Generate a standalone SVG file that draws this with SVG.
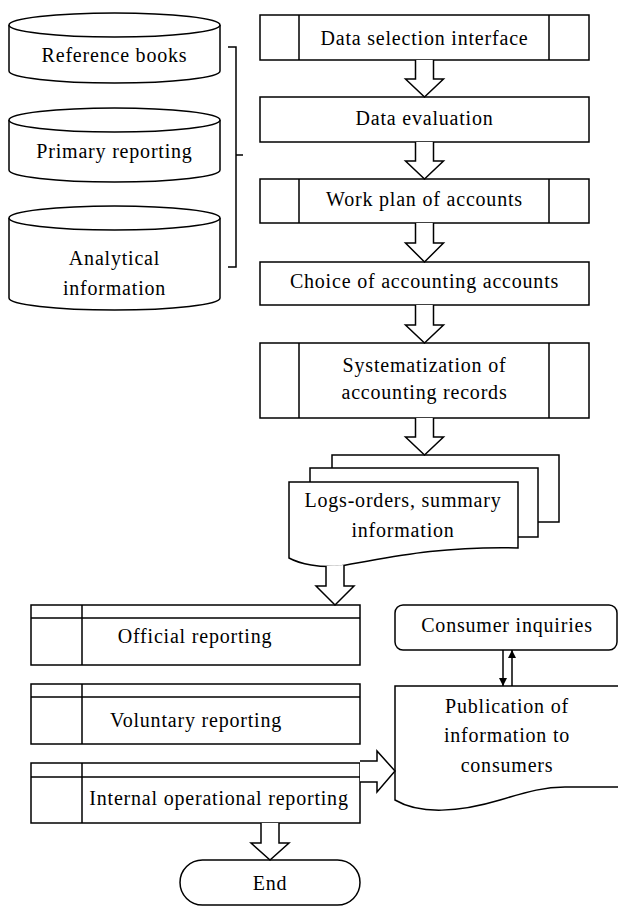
<svg xmlns="http://www.w3.org/2000/svg" width="618" height="906" viewBox="0 0 618 906">
<style>
.s{fill:#fff;stroke:#000;stroke-width:1.5}
.l{fill:none;stroke:#000;stroke-width:1.5}
.t{font-family:"Liberation Serif","Times New Roman",serif;font-size:20px;letter-spacing:0.8px;fill:#000;text-anchor:middle}
</style>
<defs>
<marker id="ah" viewBox="0 0 8 14" refX="8" refY="7" markerWidth="8" markerHeight="14" markerUnits="userSpaceOnUse" orient="auto">
<path d="M0,3 L8,7 L0,11 Z" fill="#000"/>
</marker>
</defs>
<rect width="618" height="906" fill="#fff"/>

<g id="cyl-reference">
<path class="s" d="M9,25 V71 A105.5,12 0 0 0 220,71 V25"/>
<ellipse class="s" cx="114.5" cy="25" rx="105.5" ry="12"/>
<text class="t" x="114.5" y="62">Reference books</text>
</g>
<g id="cyl-primary">
<path class="s" d="M9,120 V170 A105.5,12 0 0 0 220,170 V120"/>
<ellipse class="s" cx="114.5" cy="120" rx="105.5" ry="12"/>
<text class="t" x="114.5" y="158">Primary reporting</text>
</g>
<g id="cyl-analytical">
<path class="s" d="M9,218 V298 A105.5,12 0 0 0 220,298 V218"/>
<ellipse class="s" cx="114.5" cy="218" rx="105.5" ry="12"/>
<text class="t" x="114.5" y="265">Analytical</text>
<text class="t" x="114.5" y="295">information</text>
</g>
<g id="bracket">
<path class="l" d="M228,47 H236 V267 H228 M236,155 H243"/>
</g>

<g id="n-select">
<rect class="s" x="260" y="15" width="329" height="45"/>
<path class="l" d="M299,15 V60 M549,15 V60"/>
<text class="t" x="424.5" y="45">Data selection interface</text>
</g>
<g id="n-eval">
<rect class="s" x="260" y="97" width="329" height="45"/>
<text class="t" x="424.5" y="125">Data evaluation</text>
</g>
<g id="n-workplan">
<rect class="s" x="260" y="179" width="329" height="44"/>
<path class="l" d="M299,179 V223 M549,179 V223"/>
<text class="t" x="424.5" y="206">Work plan of accounts</text>
</g>
<g id="n-choice">
<rect class="s" x="260" y="262" width="329" height="43"/>
<text class="t" x="424.5" y="288">Choice of accounting accounts</text>
</g>
<g id="n-system">
<rect class="s" x="260" y="343" width="329" height="75"/>
<path class="l" d="M299,343 V418 M549,343 V418"/>
<text class="t" x="424.5" y="372">Systematization of</text>
<text class="t" x="424.5" y="399">accounting records</text>
</g>
<g id="n-logs">
<rect class="s" x="332" y="455" width="227" height="67"/>
<rect class="s" x="310" y="468" width="228" height="69"/>
<path class="s" d="M289,482 H518 V548 C430,546 380,560 340,566 C320,568 300,564 289,558 Z"/>
<text class="t" x="403" y="507">Logs-orders, summary</text>
<text class="t" x="403" y="537">information</text>
</g>

<g id="n-official">
<rect class="s" x="31" y="605" width="329" height="60"/>
<path class="l" d="M31,618 H360 M82,605 V665"/>
<text class="t" x="195" y="643">Official reporting</text>
</g>
<g id="n-voluntary">
<rect class="s" x="31" y="684" width="329" height="60"/>
<path class="l" d="M31,697 H360 M82,684 V744"/>
<text class="t" x="196" y="727">Voluntary reporting</text>
</g>
<g id="n-internal">
<rect class="s" x="31" y="763" width="329" height="60"/>
<path class="l" d="M31,777 H360 M82,763 V823"/>
<text class="t" x="219" y="805">Internal operational reporting</text>
</g>
<g id="n-end">
<rect class="s" x="180" y="860" width="180" height="45" rx="22.5" ry="22.5"/>
<text class="t" x="270" y="890">End</text>
</g>
<g id="n-consumer">
<rect class="s" x="395" y="605" width="222" height="45" rx="8" ry="8"/>
<text class="t" x="507" y="632">Consumer inquiries</text>
</g>
<g id="n-publication">
<path class="s" d="M630,686 H395 V800 C420,815 460,812 500,800 C530,791 545,787 565,787 H630"/>
<text class="t" x="507" y="713">Publication of</text>
<text class="t" x="507" y="742">information to</text>
<text class="t" x="507" y="772">consumers</text>
</g>

<g id="connectors">
<path class="s" d="M415.5,60 V79 H405.5 L424.5,97 L443.5,79 H433.5 V60"/>
<path class="s" d="M415.5,142 V161 H405.5 L424.5,179 L443.5,161 H433.5 V142"/>
<path class="s" d="M415.5,223 V243 H405.5 L424.5,262 L443.5,243 H433.5 V223"/>
<path class="s" d="M415.5,305 V325 H405.5 L424.5,343 L443.5,325 H433.5 V305"/>
<path class="s" d="M415.5,418 V437 H405.5 L424.5,455 L443.5,437 H433.5 V418"/>
<path class="s" d="M326,566 V586 H316 L335,605 L354,586 H344 V565"/>
<path class="s" d="M261,823 V843 H251 L270,860 L289,843 H279 V823"/>
<path class="s" d="M360,761 H377 V751 L395,771 L377,792 V782 H360"/>
<line class="l" x1="503" y1="650" x2="503" y2="686" marker-end="url(#ah)"/>
<line class="l" x1="512" y1="686" x2="512" y2="650" marker-end="url(#ah)"/>
</g>
</svg>
